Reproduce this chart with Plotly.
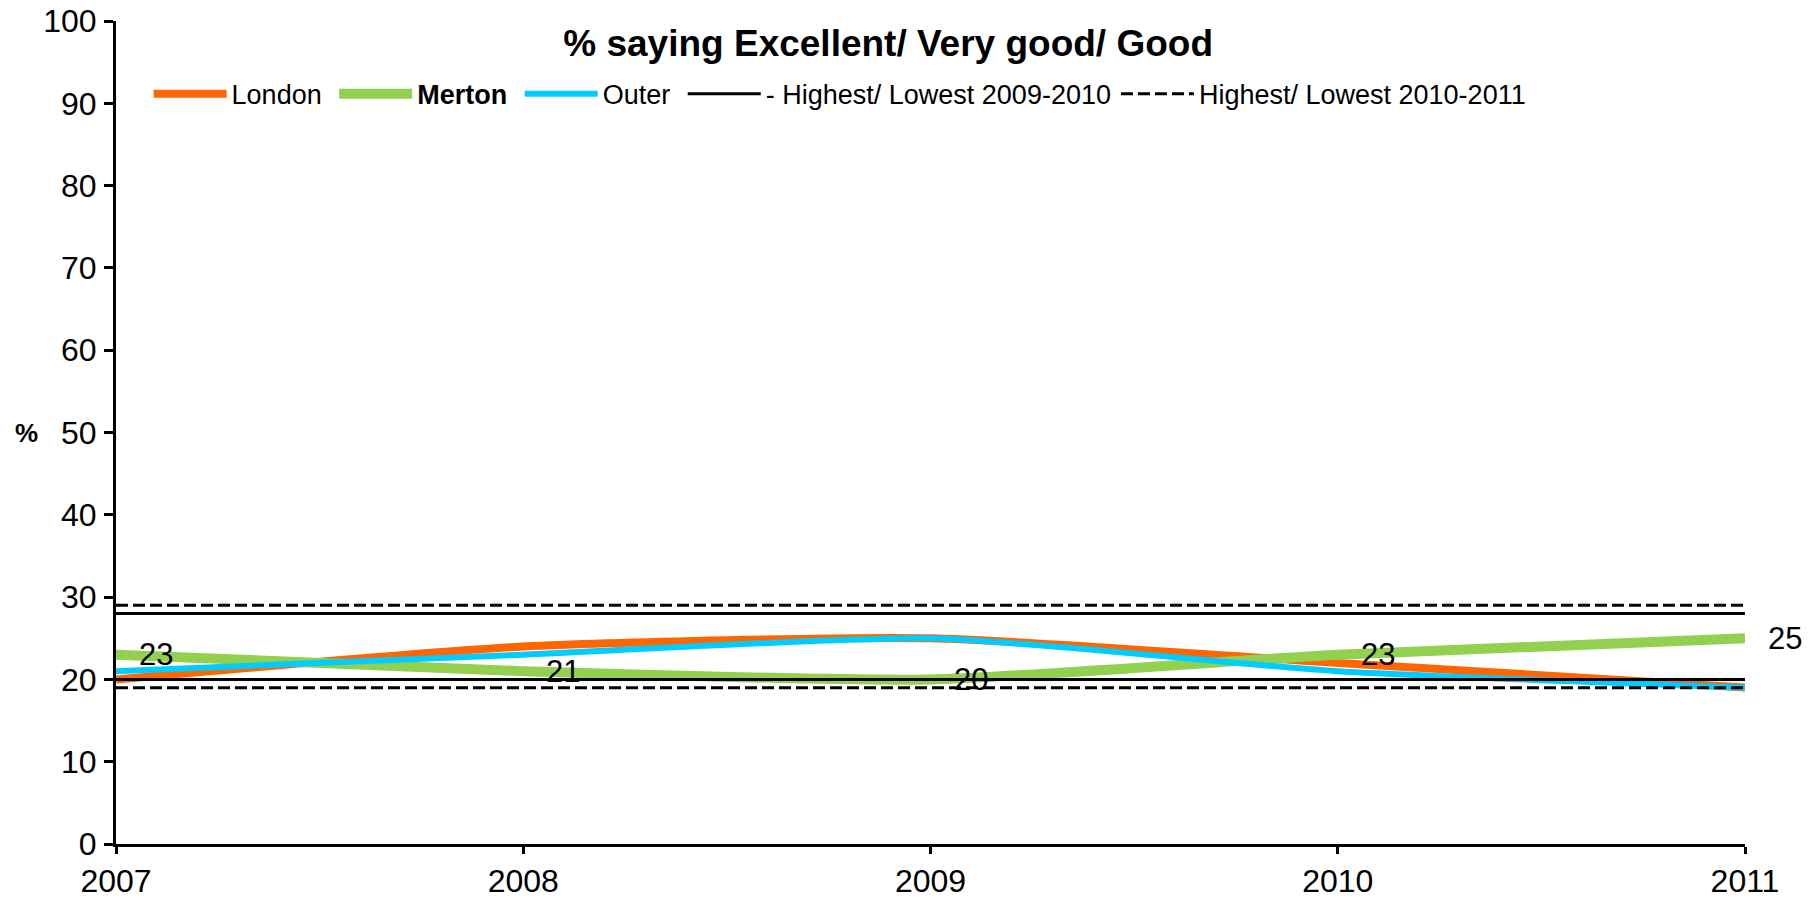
import plotly.graph_objects as go

years = [2007, 2008, 2009, 2010, 2011]
london = [20, 24, 25, 22, 19]
merton = [23, 21, 20, 23, 25]
outer = [21, 23, 25, 21, 19]

# highest / lowest reference levels
hl_0910 = [28, 20]
hl_1011 = [29, 19]

FONT = "Liberation Sans, Arial, sans-serif"
PAD = "\u00a0"

fig = go.Figure()

fig.add_trace(go.Scatter(x=years, y=london, name="London" + PAD, mode="lines",
                         line=dict(color="#FF6600", width=8, shape="spline", smoothing=0.6)))
fig.add_trace(go.Scatter(x=years, y=merton, name="<b>Merton</b>" + PAD, mode="lines",
                         line=dict(color="#92D050", width=10, shape="spline", smoothing=0.6)))
fig.add_trace(go.Scatter(x=years, y=outer, name="Outer" + PAD, mode="lines",
                         line=dict(color="#00CCFF", width=6, shape="spline", smoothing=0.6)))

def hl_trace(levels, name, dash, width):
    xs, ys = [], []
    for v in levels:
        xs += [years[0], years[-1], None]
        ys += [v, v, None]
    return go.Scatter(x=xs, y=ys, name=name, mode="lines",
                      line=dict(color="black", width=width, dash=dash))

fig.add_trace(hl_trace(hl_0910, "- Highest/ Lowest 2009-2010", "solid", 3))
fig.add_trace(hl_trace(hl_1011, "Highest/ Lowest 2010-2011", "12px,5px", 3))

# Merton data labels
for x, v in zip(years, merton):
    fig.add_annotation(x=x, y=v, text=str(v), showarrow=False,
                       xanchor="center", yanchor="middle", xshift=40,
                       font=dict(family=FONT, size=31, color="black"))

fig.add_annotation(xref="paper", yref="paper", x=0, y=0.5, text="<b>%</b>",
                   xanchor="right", xshift=-76,
                   showarrow=False, font=dict(family=FONT, size=26, color="black"))

fig.update_layout(
    width=1820, height=902,
    paper_bgcolor="white", plot_bgcolor="white",
    margin=dict(l=116, r=75, t=21, b=58),
    font=dict(family=FONT, color="black"),
    title=dict(text="<b>% saying Excellent/ Very good/ Good</b>",
               x=0.488, xref="container", xanchor="center",
               y=0.9523, yref="container", yanchor="middle",
               font=dict(family=FONT, size=37, color="black")),
    legend=dict(orientation="h", x=0.020, y=0.911, xanchor="left", yanchor="middle",
                font=dict(family=FONT, size=27, color="black"),
                itemwidth=73, tracegroupgap=0, bgcolor="rgba(0,0,0,0)"),
    xaxis=dict(range=[2007, 2011], tickvals=years, ticktext=[str(y) for y in years],
               automargin=False, ticklabeloverflow="allow",
               showgrid=False, zeroline=False, showline=True, linecolor="black", linewidth=3,
               ticks="outside", ticklen=7, tickwidth=3, tickcolor="black",
               tickfont=dict(family=FONT, size=32, color="black"), ticklabelstandoff=0),
    yaxis=dict(range=[0, 100], dtick=10, showgrid=False, zeroline=False,
               automargin=False, ticklabeloverflow="allow",
               showline=True, linecolor="black", linewidth=3,
               ticks="outside", ticklen=9, tickwidth=3, tickcolor="black",
               tickfont=dict(family=FONT, size=32, color="black"), ticklabelstandoff=1),
)

# drop the default page margin so the figure fills the window exactly
fig.write_html("out.html", config={"displayModeBar": False},
               post_script="document.body.style.margin = '0';")
